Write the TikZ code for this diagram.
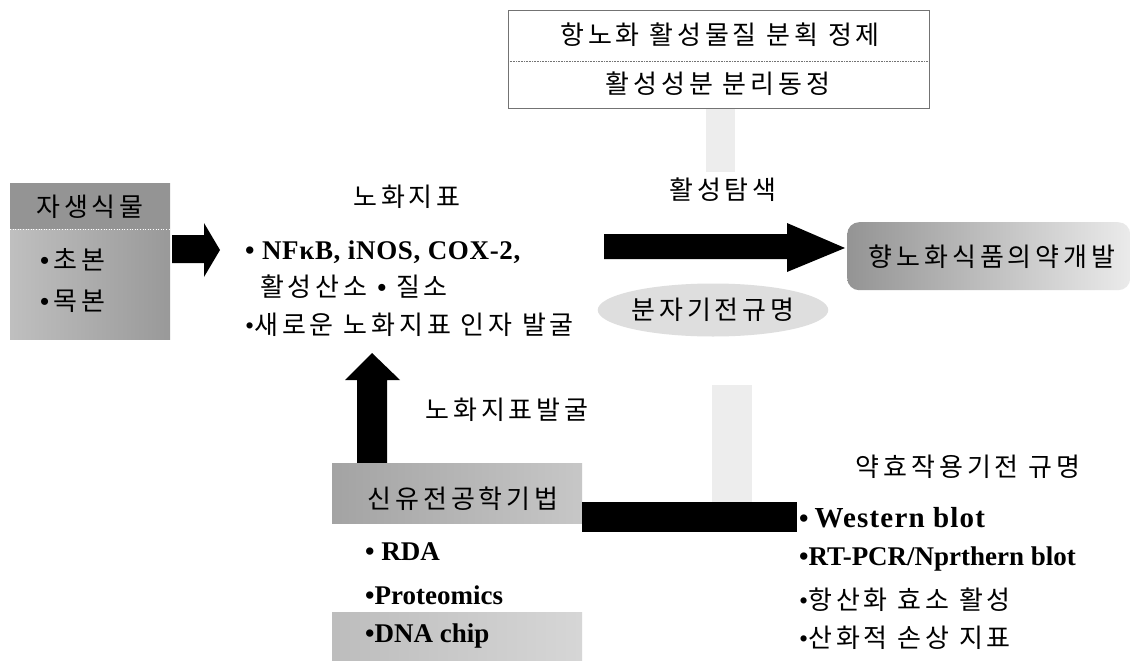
\documentclass[tikz,border=0pt]{standalone}
\usepackage{fontspec}
\setmainfont{Noto Sans CJK KR}[LetterSpace=15]
\newfontfamily\tnr{Liberation Serif}
\newfontfamily\tnrwide{Liberation Serif}[LetterSpace=4]
\newfontfamily\tnrsemi{Liberation Serif}[LetterSpace=2.5]
\usetikzlibrary{shapes.geometric}
\tikzset{
  kor/.style={font=\fontsize{26}{30}\selectfont, inner sep=0pt},
  lat/.style={font=\fontsize{27}{30}\selectfont\tnr\bfseries, inner sep=0pt},
  blockarrow/.style={fill=black},
  faint/.style={fill=black!7},
}
\begin{document}
\begin{tikzpicture}[x=1pt,y=-1pt]
\useasboundingbox (0,0) rectangle (1135,661);
\fill[white] (0,0) rectangle (1135,661);

% faint gray bars (scan remnants of gray arrows)
\fill[faint] (706,108) rectangle (735,172);
\fill[faint] (712,385) rectangle (752,502);

% top box
\node[draw=black!55, line width=0.7pt, minimum width=421, minimum height=98, anchor=north west, inner sep=0pt] (purify) at (508,10) {};
\draw[black!55, line width=0.6pt, densely dotted] (purify.west |- 0,61) -- (purify.east |- 0,61);
\node[kor] (p1) at (720,35) {항노화 활성물질 분획 정제};
\node[kor] (p2) at (718,84) {활성성분 분리동정};

% left box
\node[anchor=north west, minimum width=160, minimum height=156, inner sep=0pt,
      left color=black!25, right color=black!40] (plants) at (10,183) {};
\fill[black!42] (plants.north west) rectangle (170,229);
\draw[white, line width=0.6pt, dotted] (10,229) -- (170,229);
\node[kor] (pl0) at (90,207) {자생식물};
\node[kor, anchor=west] (pl1) at (40,260) {{\tnr\bfseries •\,}초본};
\node[kor, anchor=west] (pl2) at (40,301) {{\tnr\bfseries •\,}목본};

% arrow left
\fill[blockarrow] (172,235) -- (204,235) -- (204,223) -- (220,250) -- (204,277) -- (204,263) -- (172,263) -- cycle;

% aging markers
\node[kor] (marker) at (407,197) {노화지표};
\node[lat, anchor=west, font=\fontsize{27}{30}\selectfont\tnrsemi\bfseries] (m1) at (245,252) {• NFκB, iNOS, COX-2,};
\node[kor, anchor=west] (m2) at (260,287) {활성산소 {\tnr\bfseries •} 질소};
\node[kor, anchor=west] (m3) at (245,325) {{\tnr •}새로운 노화지표 인자 발굴};

% big right arrow
\node[kor] (search) at (723,190) {활성탐색};
\fill[blockarrow] (604,234) -- (787,234) -- (787,223) -- (845,248) -- (787,272) -- (787,259) -- (604,259) -- cycle;

% development box
\node[anchor=north west, minimum width=283, minimum height=68, inner sep=0pt, rounded corners=12pt,
      left color=black!42, right color=black!8] (dev) at (847,222) {};
\node[kor] (devt) at (992,257) {향노화식품의약개발};

% ellipse
\node[ellipse, fill=black!13, minimum width=198, minimum height=53, kor] (mech) at (713,310) {분자기전규명};

% up arrow
\fill[blockarrow] (357,463) -- (357,380) -- (345,380) -- (372,353) -- (400,380) -- (387,380) -- (387,463) -- cycle;
\node[kor] (disc) at (507,410) {노화지표발굴};

% technique box
\node[anchor=north west, minimum width=250, minimum height=60, inner sep=0pt,
      left color=black!36, right color=black!22] (tech) at (332,463) {};
\node[kor] (techt) at (463,499) {신유전공학기법};
\fill[left color=black!26, right color=black!16] (332,612) rectangle (582,661);
\node[lat, anchor=west] (t1) at (365,552) {• RDA};
\node[lat, anchor=west] (t2) at (365,595) {•Proteomics};
\node[lat, anchor=west] (t3) at (365,636) {•DNA chip};

% horizontal bar
\fill[blockarrow] (tech.east |- 0,502) rectangle (797,532);

% right column
\node[kor] (pharm) at (968,467) {약효작용기전 규명};
\node[lat, anchor=west] (r1) at (799,518) {•\hspace{6pt}{\fontsize{29}{30}\selectfont\tnrwide\bfseries Western blot}};
\node[lat, anchor=west] (r2) at (799,559) {•RT-PCR/Nprthern blot};
\node[kor, anchor=west] (r3) at (799,600) {{\tnr •}항산화 효소 활성};
\node[kor, anchor=west] (r4) at (799,638) {{\tnr •}산화적 손상 지표};
\end{tikzpicture}
\end{document}
